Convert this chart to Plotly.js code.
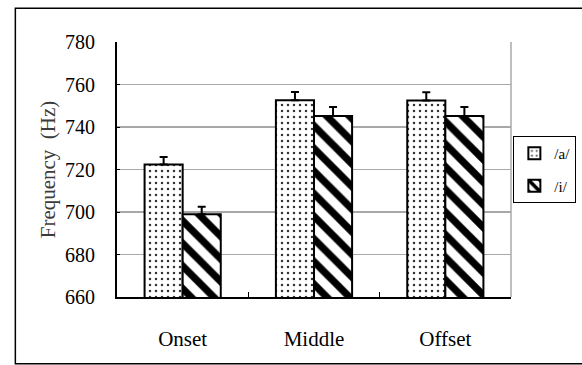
<!DOCTYPE html>
<html>
<head>
<meta charset="utf-8">
<script src="https://cdn.plot.ly/plotly-3.0.1.min.js"></script>
<style>
  html, body { margin: 0; padding: 0; background: #fff; }
  #chart { width: 582px; height: 365px; }
</style>
</head>
<body>
<div id="chart"></div>
<script>
// Data
const categories = ["Onset", "Middle", "Offset"];
const seriesNames = ["/a/", "/i/"];
const valuesA = [722.4, 752.6, 752.5];
const errorsA = [3.5, 3.9, 3.9];
const valuesI = [699.0, 745.2, 745.2];
const errorsI = [3.5, 4.2, 4.2];
const yTickValues = [660, 680, 700, 720, 740, 760, 780];

const serif = "Liberation Serif";

const traceA = {
  type: "bar", name: seriesNames[0], legendgroup: "a",
  x: categories, y: valuesA,
  marker: { color: "#ffffff", line: { color: "#000000", width: 2 },
    pattern: { shape: ".", size: 6, solidity: 0.14, fgcolor: "#333333", bgcolor: "#ffffff", fgopacity: 1, fillmode: "overlay" } },
  error_y: { type: "data", symmetric: false, array: errorsA, arrayminus: [0, 0, 0], color: "#000000", thickness: 2, width: 4 }
};
const traceI = {
  type: "bar", name: seriesNames[1], legendgroup: "i",
  x: categories, y: valuesI,
  marker: { color: "#ffffff", line: { color: "#000000", width: 2 },
    pattern: { shape: "\\", size: 16, solidity: 0.45, fgcolor: "#000000", bgcolor: "#ffffff", fgopacity: 1, fillmode: "overlay" } },
  error_y: { type: "data", symmetric: false, array: errorsI, arrayminus: [0, 0, 0], color: "#000000", thickness: 2, width: 4 }
};

const layout = {
  width: 582, height: 365,
  margin: { l: 117, r: 71, t: 42, b: 68, pad: 0, autoexpand: false },
  paper_bgcolor: "#ffffff", plot_bgcolor: "#ffffff",
  barmode: "group", bargap: 0.42, bargroupgap: 0,
  showlegend: true,
  font: { family: serif, color: "#000000" },
  xaxis: {
    type: "category", showline: true, linecolor: "#000000", linewidth: 2,
    ticks: "inside", ticklen: 5, tickwidth: 1, tickcolor: "#000000", tickson: "boundaries",
    showgrid: false, automargin: false,
    tickfont: { family: serif, size: 21, color: "#000000" },
    ticklabelstandoff: 22, fixedrange: true
  },
  yaxis: {
    range: [660, 780], tickmode: "array", tickvals: yTickValues, ticktext: yTickValues.map(String),
    showline: true, linecolor: "#000000", linewidth: 2,
    ticks: "inside", ticklen: 3, tickcolor: "#000000",
    showgrid: true, gridcolor: "#a8a8a8", gridwidth: 1.5, zeroline: false, automargin: false,
    tickfont: { family: serif, size: 20, color: "#000000" },
    ticklabelstandoff: 16,
    title: { text: "Frequency\u2002(Hz)", font: { family: serif, size: 21, color: "#3c3c3c" }, standoff: 4 },
    fixedrange: true
  },
  legend: {
    x: 1.006, y: 0.631, xanchor: "left", yanchor: "top",
    bgcolor: "#ffffff", bordercolor: "#000000", borderwidth: 1,
    font: { family: serif, size: 15, color: "#000000" },
    traceorder: "grouped", tracegroupgap: 10, itemwidth: 30
  },
  shapes: [
    { type: "line", xref: "paper", yref: "paper", x0: 1, x1: 1, y0: 0, y1: 1, line: { color: "#a8a8a8", width: 1.5 } },
    { type: "rect", xref: "paper", yref: "paper", x0: -0.258, x1: 1.185, y0: -0.262, y1: 1.132, line: { color: "#000000", width: 1.5 }, fillcolor: "rgba(0,0,0,0)" }
  ]
};

Plotly.newPlot("chart", [traceA, traceI], layout, { staticPlot: true, displayModeBar: false });
</script>
</body>
</html>
